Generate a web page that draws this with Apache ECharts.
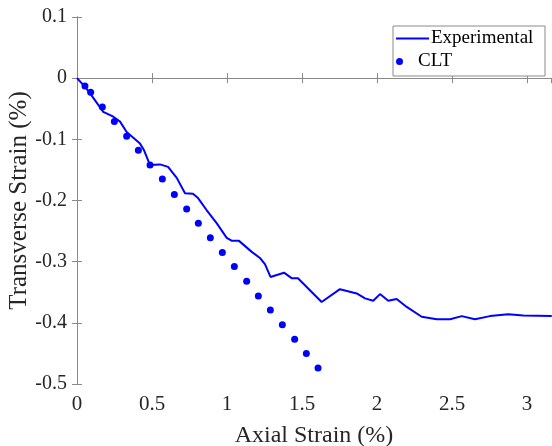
<!DOCTYPE html>
<html>
<head>
<meta charset="utf-8">
<script src="https://cdn.jsdelivr.net/npm/echarts@6/dist/echarts.min.js"></script>
<style>
  html, body { margin: 0; padding: 0; background: #fff; }
  #main { width: 552px; height: 446px; }
</style>
</head>
<body>
<div id="main"></div>
<script>
// experimental curve (axial %, transverse %)
var expAxial = [0, 0.053, 0.087, 0.175, 0.242, 0.287, 0.331, 0.42, 0.447, 0.487, 0.553, 0.607, 0.665, 0.72, 0.773,
    0.807, 0.865, 0.931, 0.998, 1.033, 1.08, 1.165, 1.22, 1.253, 1.29, 1.38, 1.431, 1.473, 1.631, 1.753, 1.865,
    1.92, 1.975, 2.02, 2.075, 2.131, 2.198, 2.298, 2.398, 2.487, 2.565, 2.653, 2.753, 2.875, 2.975, 3.165];
var expTrans = [0, -0.014, -0.025, -0.055, -0.063, -0.071, -0.088, -0.107, -0.118, -0.142, -0.141, -0.145, -0.163, -0.188, -0.189,
    -0.196, -0.216, -0.237, -0.261, -0.266, -0.266, -0.284, -0.294, -0.304, -0.325, -0.318, -0.327, -0.327, -0.366, -0.345, -0.352,
    -0.36, -0.364, -0.353, -0.364, -0.361, -0.374, -0.39, -0.394, -0.394, -0.389, -0.394, -0.389, -0.386, -0.388, -0.389];

// classical lamination theory points
var cltAxial = [0.053, 0.091, 0.169, 0.249, 0.331, 0.409, 0.487, 0.569, 0.649, 0.731, 0.809, 0.889, 0.969, 1.049,
    1.131, 1.209, 1.289, 1.369, 1.451, 1.529, 1.607];
var cltTrans = [-0.013, -0.023, -0.047, -0.071, -0.095, -0.118, -0.142, -0.165, -0.19, -0.214, -0.237, -0.261, -0.285, -0.308,
    -0.332, -0.356, -0.379, -0.403, -0.427, -0.45, -0.474];

var xTicks = [0, 0.5, 1, 1.5, 2, 2.5, 3];
var yTicks = [-0.5, -0.4, -0.3, -0.2, -0.1, 0, 0.1];

function pairs(xs, ys) {
    return xs.map(function (x, i) { return [x, ys[i]]; });
}

var chart = echarts.init(document.getElementById('main'));
var font = 'Liberation Serif';
var axisGray = '#8a8a8a';
var txt = '#262626';

var option = {
    animation: false,
    grid: { left: 77, top: 17, right: 1, bottom: 62, outerBoundsMode: 'none' },
    graphic: [{
        type: 'rect',
        shape: { x: 393, y: 26, width: 152, height: 50 },
        style: { fill: '#fff', stroke: '#8a8a8a', lineWidth: 1 },
        z: 100
    }],
    legend: [{
        data: ['Experimental'],
        left: 396, top: 29,
        itemWidth: 33, itemHeight: 2, itemGap: 0,
        padding: 0,
        icon: 'rect',
        textStyle: { fontFamily: font, fontSize: 19, color: '#000', padding: [0, 0, 0, -3] },
        z: 110
    }, {
        data: ['CLT'],
        left: 396, top: 52,
        itemWidth: 33, itemHeight: 7, itemGap: 0,
        padding: 0,
        icon: 'circle',
        textStyle: { fontFamily: font, fontSize: 19, color: '#000', padding: [0, 0, 0, -3] },
        z: 110
    }],
    xAxis: [{
        type: 'value', min: xTicks[0], max: 3.16, interval: 0.5,
        name: 'Axial Strain (%)', nameLocation: 'middle', nameGap: 40, nameMoveOverlap: false,
        nameTextStyle: { fontFamily: font, fontSize: 24, color: txt },
        axisLine: { lineStyle: { color: axisGray } },
        axisTick: { inside: true, length: 5, lineStyle: { color: axisGray } },
        axisLabel: { fontFamily: font, fontSize: 21, color: txt, margin: 10, showMaxLabel: false },
        splitLine: { show: false }
    }, {
        type: 'value', position: 'top', min: xTicks[0], max: 3.16, interval: 0.5,
        axisLine: { lineStyle: { color: axisGray } },
        axisTick: { inside: true, length: 5, lineStyle: { color: axisGray } },
        axisLabel: { show: false },
        splitLine: { show: false }
    }],
    yAxis: [{
        type: 'value', min: yTicks[0], max: yTicks[yTicks.length - 1], interval: 0.1,
        name: 'Transverse Strain (%)', nameLocation: 'middle', nameGap: 45, nameMoveOverlap: false,
        nameTextStyle: { fontFamily: font, fontSize: 25, color: txt },
        axisLine: { show: true, lineStyle: { color: axisGray } },
        axisTick: { show: true, inside: true, length: 5, lineStyle: { color: axisGray } },
        axisLabel: { fontFamily: font, fontSize: 20, color: txt, margin: 10 },
        splitLine: { show: false }
    }, {
        type: 'value', position: 'right', min: yTicks[0], max: yTicks[yTicks.length - 1], interval: 0.1,
        axisLine: { show: true, lineStyle: { color: axisGray } },
        axisTick: { show: true, inside: true, length: 5, lineStyle: { color: axisGray } },
        axisLabel: { show: false },
        splitLine: { show: false }
    }],
    series: [{
        name: 'Experimental',
        type: 'line',
        data: pairs(expAxial, expTrans),
        symbol: 'none',
        color: '#0000ff',
        lineStyle: { color: '#0000ff', width: 2 },
        z: 3
    }, {
        name: 'CLT',
        type: 'scatter',
        data: pairs(cltAxial, cltTrans),
        symbol: 'circle',
        symbolSize: 7,
        color: '#0000ff',
        itemStyle: { color: '#0000ff', opacity: 1 },
        z: 4
    }]
};

chart.setOption(option);
window.addEventListener('resize', function () {
    chart.resize();
});
</script>
</body>
</html>
